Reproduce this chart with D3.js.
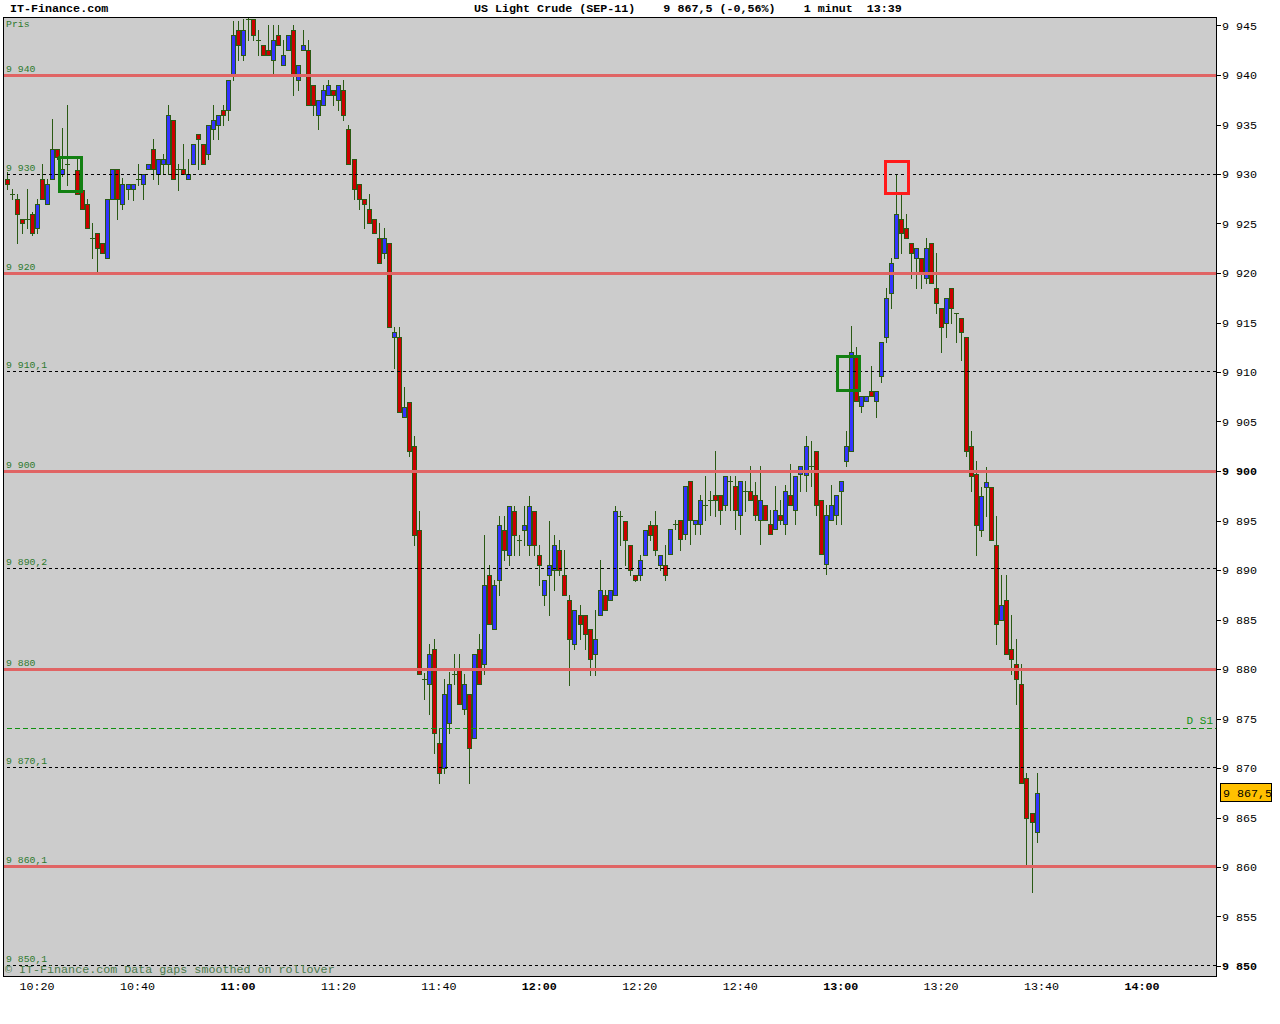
<!DOCTYPE html>
<html><head><meta charset="utf-8">
<script src="https://cdn.jsdelivr.net/npm/d3@7"></script>
<style>body{margin:0;background:#fff}svg{display:block}</style>
</head><body><svg id="c" width="1280" height="1024"></svg>
<script>
// ---- data ----
const sessionStart = "10:14";
const missingMinutes = ["10:27"];
const open = [9929.5,9928,9927.5,9925.5,9925.5,9926,9924.5,9929.5,9927,9929.5,9932.5,9930,9931,
9930.4,9928.4,9927,9923.5,9924,9923,9921.5,9927.5,9930.5,9927,9928.5,9928.5,9929.5,9929,9930.5,9932.5,9930,9931,9931,9935.5,9930.5,9930.5,9929.5,9931,9934,9933,9932,9934.5,9935,9936.5,9936.5,9940,9944.5,
9942,9945.5,9945.7,9943.5,9943,9942.5,9941.5,9944,9941,9942.5,9944.5,9939.5,9942.5,9942.5,9939,9936,9937,9938,9938.5,9937.5,9938.5,9934.5,9931.5,9929,9927.5,9926.5,9925.5,9923.5,9922,9923,9913.5,9913.5,9905.5,9907,9902.5,9894,9879,9878.5,9882,9872.5,
9870,9874.5,9879.5,9880,9876,9877.5,9873,9882,9880.5,9889.5,9884,9889,9894,9891.5,9896,9893,9894,9892.5,9896,9891.5,
9887.5,9889.5,9890,9892,9889.5,9887,9882.5,9885.5,9885.5,9884,9881.5,9885.5,9887.5,9887,9887.5,9895.5,9895,9892.5,9889.5,9889.5,9891.5,9894.5,9894.5,9890.5,
9890.5,9891.6,9894.6,9895.1,9893.6,9899,9894.6,9894.6,9896.6,9897.1,9897.6,9897.6,9896.6,9899,9898.5,9895.6,9898,9898,9897.6,9895.1,9896.6,9894.6,9894.1,
9895.6,9894.6,9897.6,9896.1,9899.7,9899.6,9900.5,9902,9897.1,9890.6,9895.1,9895.6,9898,9901,9902,9911.5,9906.6,9907.1,9908.1,9907.1,9909.6,
9913.5,9918,9921.5,9925.5,9924.5,9923,9921.5,9921.5,9919.5,9923,9918.5,9916.5,9915,9918.5,9916,9915.5,
9913.5,9902.5,9899.7,9894,9898.4,9898.4,9892.5,9885,9887,9882,9880.5,9878.5,9869,9865.5,9863.5];
const high = [9930.2,9928.5,9928,9925.5,9928.5,9926.2,9927.5,9931,9929.5,9935.6,9932.5,9934.6,9937,
9931.5,9928.4,9927.5,9925,9924,9923,9927.5,9930.5,9930.5,9929.6,9929,9929,9931,9930,9931,9933.5,9931.5,9932,9937,9935.5,9931,9933,9931.5,9933,9934,9933,9935,9937,9936,9937,9939.5,9945.5,9945.5,
9945.7,9946,9945.7,9944.5,9943,9945,9945,9945,9943.5,9944,9945,9941,9944.5,9943.5,9939,9937.5,9939,9939.5,9938.5,9939,9939.5,9935,9931.5,9929,9927.5,9928,9925.5,9925,9924.5,9923,9914.5,9914.5,9908.5,9907,9903.5,9896,9879.6,9882.5,9883,9874,
9879,9879.7,9881.5,9881.5,9879.5,9877.5,9881.5,9883.5,9893.5,9890.5,9889,9895.5,9895.5,9896.5,9896.5,9893.5,9896.5,9897.5,9896,9892.5,
9889,9895,9893.5,9893,9892,9887.5,9886,9886.5,9885.5,9884,9886,9891,9888,9888,9896.5,9896,9895,9892.5,9889.5,9891.5,9894,9895,9896,9891.5,
9892.5,9894.1,9895.1,9895.1,9898.5,9899,9895.1,9897.6,9899.5,9898,9902,9897.6,9899.5,9899.5,9899.5,9899,9899,9900.5,9898.9,9900.5,9896.6,9896.1,9898.5,
9897.1,9898.6,9900.7,9899.5,9900.5,9903.5,9903,9902,9897.1,9896.6,9898.6,9897.6,9899,9904,9914.6,9912.5,9907.6,9907.6,9910.6,9908.1,9913,
9918.5,9921.5,9930,9928,9926,9923,9922.5,9921.5,9923.5,9923,9922,9916.5,9917.5,9918.5,9916,9915.5,
9913.5,9904,9901,9898.4,9900.4,9898.4,9895.5,9889.5,9889.5,9885.5,9883,9880.5,9869.5,9865.5,9869.5];
const low = [9928.5,9927.5,9923,9924,9924.5,9923.8,9924,9927.5,9927,9929.5,9931.5,9929.8,9928.9,
9928,9926.5,9924.5,9921.5,9920.1,9922,9921.5,9927.5,9925.5,9926.5,9927.5,9927.4,9928.9,9927.5,9930.5,9929.5,9929,9930,9930,9929.5,9928.4,9930,9929.5,9931,9930.5,9931,9931.5,9933.5,9933.5,9935,9935.5,9939.5,9941.5,
9941.5,9943.5,9943.5,9942,9942,9942,9940.2,9943,9941,9942.5,9938,9938.5,9942.5,9937,9936,9934.5,9937,9938,9937,9936.5,9935.5,9931,9927.5,9926.5,9924.5,9925,9924,9921,9921.5,9914.5,9910.4,9906,9905.5,9901.5,9892.5,9879.5,9877,9875.5,9871.5,9868.5,
9869.5,9873.5,9878.5,9876.5,9875.5,9868.5,9873,9878.5,9879.5,9884.5,9884,9887.5,9891,9890.5,9891.5,9891.5,9892.5,9891.5,9891.5,9888.5,
9886.5,9885.5,9888,9889.5,9887.5,9878.4,9882,9883,9882,9879.4,9879.4,9885.5,9886,9887,9887.5,9892.5,9890.5,9889.5,9888.9,9889,9891.5,9893,9891.5,9890,
9889,9891.6,9894.1,9892,9893.1,9892.6,9893.6,9893.6,9895.1,9895.6,9895.5,9894.6,9896.1,9896.1,9894.1,9893.6,9896,9897.1,9895.1,9892.6,9895.1,9893.6,9894.1,
9894.6,9893.6,9896.6,9894.6,9898,9898,9898.5,9895.6,9891.6,9889.6,9895.1,9894.6,9894.6,9900.5,9902,9907.1,9906,9907.1,9907.6,9905.5,9909,
9913,9916.5,9921.5,9922,9923.5,9919.5,9918.5,9918.5,9919,9919,9916,9912,9913.5,9915,9913,9911.2,
9901.5,9898,9891.5,9893.4,9895.5,9893,9882.5,9885,9881.5,9879.5,9876.5,9868.5,9860,9857.5,9862.5];
const close = [9929,9928,9926,9925,9925.5,9924,9927,9927.5,9929,9932.5,9931.75,9930.5,9931,
9928,9926.5,9924.5,9923.5,9922.5,9922,9927.5,9930.5,9927.5,9929,9929,9929,9929.5,9930,9931,9930.5,9931.5,9931.5,9936,9929.5,9930.5,9930,9930,9933,9933.5,9931,9935,9935.5,9936,9936,9939.5,9944,9943,
9944.5,9945.7,9944,9943.5,9942,9942,9943.5,9943,9942,9944,9940,9941,9943,9937,9937,9937.5,9938.5,9939,9938,9939,9936,9931,9928.5,9927.5,9927,9925.1,9924,9921,9923.5,9914.5,9914,9906,9906.5,9902,9893.5,9879.5,9879,9881.5,9873.5,9869.5,
9877.5,9878.5,9879.5,9876.5,9878.5,9872,9881.5,9878.5,9888.5,9884.5,9888.5,9894.5,9892,9896.5,9893.5,9893,9894.5,9896.5,9892.5,9890.5,
9889,9890.5,9892.5,9890,9887.5,9883,9886,9884.5,9883.5,9881,9883,9888,9886,9888,9896,9895.5,9893,9890,9889,9891,9894,9893.5,9892,9891.5,
9889.5,9894.1,9894.6,9893.1,9898.5,9895.1,9895.1,9897.1,9896.6,9897.1,9897.1,9896.1,9899.5,9899,9896.1,9899,9898,9897.1,9895.6,9897.1,9895.1,9893.6,9896.1,
9895.1,9898,9896.6,9899.5,9900.5,9902.5,9900.5,9896.6,9891.6,9895.6,9896.6,9897.6,9899,9902.5,9912,9907.1,9907.6,9907.6,9907.6,9908.1,9913,
9917.5,9921,9926,9924,9923.5,9922,9922.5,9920,9922.5,9919,9917,9914.5,9917.5,9916.5,9916,9914,
9902,9899.5,9894.5,9897.5,9898.9,9893,9884.5,9886.5,9881.5,9881,9879,9868.5,9865,9864.5,9867.5];

const priceTicks = [9945,9940,9935,9930,9925,9920,9915,9910,9905,9900,9895,9890,9885,9880,9875,9870,9865,9860,9855,9850];
const boldPriceTicks = [9900,9850];
const timeTicks = ["10:20","10:40","11:00","11:20","11:40","12:00","12:20","12:40","13:00","13:20","13:40","14:00"];
const boldTimeTicks = ["11:00","12:00","13:00","14:00"];
const solidLevels = [9940,9920,9900,9880,9860.1];
const solidLabels = ["9 940","9 920","9 900","9 880","9 860,1"];
const dashedLevels = [9930,9910.1,9890.2,9870.1,9850.1];
const dashedLabels = ["9 930","9 910,1","9 890,2","9 870,1","9 850,1"];
const pivotLevels = [9874];
const pivotLabels = ["D S1"];
const boxStart = ["10:24.3","12:59.2","13:08.9"];
const boxEnd = ["10:28.8","13:03.6","13:13.5"];
const boxHigh = [9931.67,9911.57,9931.36];
const boxLow = [9928.33,9908.23,9928.13];
const boxKind = ["green","green","red"];
const lastPrice = 9867.5;
const lastPriceLabel = "9 867,5";
const titleText = "US Light Crude (SEP-11)    9 867,5 (-0,56%)    1 minut  13:39";

// ---- helpers ----
function toMin(s){const [h,m]=s.split(":");return +h*60+parseFloat(m);}
const times=[];
{let t=toMin(sessionStart);const miss=new Set(missingMinutes.map(toMin));
 while(times.length<open.length){ if(!miss.has(t)) times.push(t); t++; }}

const svg=d3.select("#c");
const L=3,R=1216,T=17,B=976;
const x=d3.scaleLinear().domain([toMin("11:00"),toMin("14:00")]).range([238,1142]);
const y=d3.scaleLinear().domain([9850,9940]).range([966,75]);
const mono="'Liberation Mono','DejaVu Sans Mono',monospace";

// plot background
svg.append("rect").attr("x",L+0.5).attr("y",T+0.5).attr("width",R-L).attr("height",B-T)
  .attr("fill","#cccccc").attr("stroke","#000").attr("stroke-width",1);

svg.append("clipPath").attr("id","pc").append("rect").attr("x",L+1).attr("y",T+1).attr("width",R-L-1).attr("height",B-T-1);
const g=svg.append("g").attr("clip-path","url(#pc)");

const cx=i=>Math.round(x(times[i]));
const py=v=>Math.round(y(v));

// wicks
const idx=d3.range(open.length);
g.append("g").selectAll("line").data(idx).join("line")
  .attr("x1",i=>cx(i)+0.5).attr("x2",i=>cx(i)+0.5)
  .attr("y1",i=>py(high[i])).attr("y2",i=>py(low[i])+1)
  .attr("stroke","#2a5a14").attr("stroke-width",1);
// bodies
g.append("g").selectAll("rect").data(idx.filter(i=>Math.abs(close[i]-open[i])>=0.3)).join("rect")
  .attr("x",i=>cx(i)-2+0.5).attr("width",4)
  .attr("y",i=>py(Math.max(open[i],close[i]))+0.5)
  .attr("height",i=>Math.max(1,py(Math.min(open[i],close[i]))-py(Math.max(open[i],close[i]))))
  .attr("fill",i=>close[i]>open[i]?"#3333ff":"#cc0000")
  .attr("stroke","#2a5a14").attr("stroke-width",1);
// doji ticks
g.append("g").selectAll("line").data(idx.filter(i=>Math.abs(close[i]-open[i])<0.3)).join("line")
  .attr("x1",i=>cx(i)-2).attr("x2",i=>cx(i)+3)
  .attr("y1",i=>py(close[i])+0.5).attr("y2",i=>py(close[i])+0.5)
  .attr("stroke","#2a5a14").attr("stroke-width",1);

// level lines
g.append("g").selectAll("line").data(solidLevels).join("line")
  .attr("x1",L).attr("x2",R).attr("y1",d=>Math.round(y(d))+0.5).attr("y2",d=>Math.round(y(d))+0.5)
  .attr("stroke","#e06464").attr("stroke-width",3);
g.append("g").selectAll("line").data(dashedLevels).join("line")
  .attr("x1",L+4).attr("x2",R).attr("y1",d=>Math.round(y(d))+0.5).attr("y2",d=>Math.round(y(d))+0.5)
  .attr("stroke","#000").attr("stroke-width",1).attr("stroke-dasharray","3,3");
g.append("g").selectAll("line").data(pivotLevels).join("line")
  .attr("x1",L+4).attr("x2",R).attr("y1",d=>Math.round(y(d))+0.5).attr("y2",d=>Math.round(y(d))+0.5)
  .attr("stroke","#109010").attr("stroke-width",1).attr("stroke-dasharray","5,3");

// level labels (left)
const lvlLab=solidLevels.map((v,i)=>[v,solidLabels[i]]).concat(dashedLevels.map((v,i)=>[v,dashedLabels[i]]));
svg.append("g").selectAll("text").data(lvlLab).join("text")
  .attr("x",6).attr("y",d=>y(d[0])-3).text(d=>d[1])
  .attr("font-family",mono).attr("font-size","9.8px").attr("fill","#2e7a2e");
svg.append("text").attr("x",6).attr("y",27).text("Pris")
  .attr("font-family",mono).attr("font-size","9.8px").attr("fill","#2e7a2e");
svg.append("g").selectAll("text").data(pivotLevels).join("text")
  .attr("x",1213).attr("y",d=>y(d)-4).attr("text-anchor","end").text((d,i)=>pivotLabels[i])
  .attr("font-family",mono).attr("font-size","11px").attr("fill","#109010");

// marker boxes
g.append("g").selectAll("rect").data(d3.range(boxStart.length)).join("rect")
  .attr("x",i=>Math.round(x(toMin(boxStart[i])))+0.5)
  .attr("width",i=>Math.round(x(toMin(boxEnd[i])))-Math.round(x(toMin(boxStart[i]))))
  .attr("y",i=>Math.round(y(boxHigh[i]))+0.5)
  .attr("height",i=>Math.round(y(boxLow[i]))-Math.round(y(boxHigh[i])))
  .attr("fill","none").attr("stroke",i=>boxKind[i]==="green"?"#128012":"#ff1a1a").attr("stroke-width",3);

// right axis
const ra=svg.append("g");
ra.append("line").attr("x1",R+0.5).attr("x2",R+0.5).attr("y1",T).attr("y2",B+1).attr("stroke","#000");
ra.selectAll("line.t").data(priceTicks).join("line").attr("class","t")
  .attr("x1",R).attr("x2",R+5).attr("y1",d=>Math.round(y(d))+0.5).attr("y2",d=>Math.round(y(d))+0.5).attr("stroke","#000");
ra.selectAll("text").data(priceTicks).join("text")
  .attr("x",1222).attr("y",d=>y(d)+4).text(d=>d3.format(",")(d).replace(",", " "))
  .attr("font-family",mono).attr("font-size","11.7px")
  .attr("font-weight",d=>boldPriceTicks.includes(d)?"bold":"normal").attr("fill","#000");

// last price tag
svg.append("rect").attr("x",1220.5).attr("y",Math.round(y(lastPrice))-9.5).attr("width",51).attr("height",18)
  .attr("fill","#ffc000").attr("stroke","#000");
svg.append("text").attr("x",1223).attr("y",y(lastPrice)+4).text(lastPriceLabel)
  .attr("font-family",mono).attr("font-size","11.7px").attr("fill","#000");

// bottom axis
svg.append("g").selectAll("text").data(timeTicks).join("text")
  .attr("x",d=>x(toMin(d))).attr("y",990).attr("text-anchor","middle").text(d=>d)
  .attr("font-family",mono).attr("font-size","11.7px")
  .attr("font-weight",d=>boldTimeTicks.includes(d)?"bold":"normal").attr("fill","#000");

// header + footer texts
svg.append("text").attr("x",10).attr("y",12).text("IT-Finance.com")
  .attr("font-family",mono).attr("font-size","11.7px").attr("font-weight","bold");
svg.append("text").attr("x",474).attr("y",12).text(titleText)
  .style("white-space","pre")
  .attr("font-family",mono).attr("font-size","11.7px").attr("font-weight","bold");
svg.append("text").attr("x",5).attr("y",973).text("© IT-Finance.com Data gaps smoothed on rollover")
  .attr("font-family",mono).attr("font-size","11.7px").attr("fill","#4a7a4a");
</script></body></html>
